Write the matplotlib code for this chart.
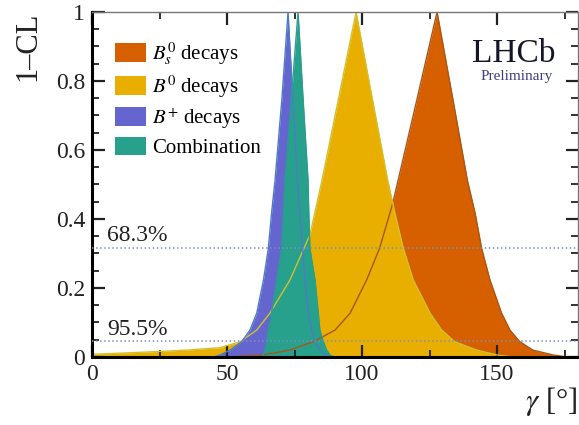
"""LHCb gamma combination: 1-CL profiles by B decay family (preliminary)."""
import matplotlib
matplotlib.use('Agg')
import matplotlib.pyplot as plt
from matplotlib.patches import Patch

# 1-CL profiles, (gamma [deg], 1-CL) pairs
BS_GAMMA = [50, 63.3, 73.3, 82, 90, 95.6, 101.7, 106.5, 111.2, 113.4, 120.3,
            127.8, 133.7, 139, 141.9, 144.3, 147.4, 151.7, 154.8, 158.5,
            163.3, 170.7, 176, 180]
BS_CL = [0, 0.006, 0.02, 0.044, 0.078, 0.127, 0.223, 0.315, 0.44, 0.513,
         0.745, 1, 0.745, 0.513, 0.4165, 0.315, 0.223, 0.127, 0.078, 0.044,
         0.02, 0.006, 0, 0]

B0_GAMMA = [0, 10, 22, 35, 47.4, 54.8, 61, 65.9, 73.3, 78.5, 80.7, 85.2,
            91.2, 97.8, 103.9, 109.5, 112.2, 115.3, 119, 125.2, 129.5, 134.4,
            142.5, 149.9, 156]
B0_CL = [0.008, 0.011, 0.015, 0.02, 0.027, 0.044, 0.078, 0.127, 0.223, 0.315,
         0.354, 0.513, 0.745, 1, 0.745, 0.513, 0.4165, 0.315, 0.223, 0.127,
         0.078, 0.044, 0.02, 0.006, 0]

BP_GAMMA = [45, 47.4, 51.1, 55.4, 58.5, 61, 63.5, 65.3, 66.5, 67.8, 70.3,
            72.6, 74.4, 76, 77, 78, 78.9, 80.1, 81.4, 82.6, 84.4, 86.3, 88]
BP_CL = [0, 0.006, 0.02, 0.044, 0.078, 0.127, 0.223, 0.315, 0.4165, 0.513,
         0.745, 1, 0.745, 0.513, 0.4165, 0.315, 0.223, 0.127, 0.078, 0.044,
         0.02, 0.006, 0]

CMB_GAMMA = [63, 63.4, 64.1, 64.7, 65.3, 66.5, 68.4, 70.2, 70.9, 71.5, 73.8,
             76.3, 78.2, 80, 80.3, 80.7, 82.6, 83.8, 84.4, 85.7, 86.9, 88.1,
             89.5]
CMB_CL = [0, 0.006, 0.02, 0.044, 0.078, 0.127, 0.223, 0.315, 0.4165, 0.513,
          0.745, 1, 0.745, 0.513, 0.4165, 0.315, 0.223, 0.127, 0.078, 0.044,
          0.02, 0.006, 0]

LABELS = [r'$B_s^0$ decays', r'$B^0$ decays', r'$B^{+}$ decays', 'Combination']
CL_LEVELS = [0.317, 0.045]
CL_TEXT = ['68.3%', '95.5%']

FILL_COLORS = ['#D66000', '#E8AF00', '#6465CF', '#27A08C']
LINE_COLORS = ['#A8561A', '#D2C030', '#4C7CC8', '#2A9E8E']

plt.rcParams['font.family'] = ['Liberation Serif', 'DejaVu Serif']
plt.rcParams['mathtext.fontset'] = 'stix'

fig = plt.figure(figsize=(5.79, 4.25), dpi=100)
ax = fig.add_axes([0.1589, 0.16, 0.8394, 0.8118])

curves = [(BS_GAMMA, BS_CL), (B0_GAMMA, B0_CL), (BP_GAMMA, BP_CL),
          (CMB_GAMMA, CMB_CL)]
for (g, cl), col in zip(curves, FILL_COLORS):
    ax.fill_between(g, cl, 0, color=col, linewidth=0, zorder=1)
for (g, cl), col in zip(curves, LINE_COLORS):
    ax.plot(g, cl, '-', color=col, linewidth=1.0, zorder=2)

for lvl, txt in zip(CL_LEVELS, CL_TEXT):
    ax.axhline(lvl, color='#8090B8', linestyle=':', linewidth=1.1, zorder=3)
    ax.text(5.6, lvl + 0.019, txt, fontsize=17, va='baseline', ha='left',
            color='#222222')

ax.set_xlim(0, 180)
ax.set_ylim(0, 1)
ax.set_xticks([0, 50, 100, 150])
ax.set_xticks([25, 75, 125, 175], minor=True)
ax.set_yticks([0, 0.2, 0.4, 0.6, 0.8, 1])
ax.set_yticklabels(['0', '0.2', '0.4', '0.6', '0.8', '1'])
ax.set_yticks([i * 0.05 for i in range(21)], minor=True)
ax.tick_params(which='both', direction='in', top=True, right=True,
               labelsize=17, colors='#222222')
ax.tick_params(which='major', length=9, width=1.6, pad=5)
ax.tick_params(which='minor', length=5, width=1.3)

for side in ['left', 'bottom']:
    ax.spines[side].set_linewidth(2.2)
    ax.spines[side].set_color('black')
for side in ['top', 'right']:
    ax.spines[side].set_linewidth(1.0)
    ax.spines[side].set_color('#777777')

ax.text(-0.132, 0.9, '1–CL', transform=ax.transAxes, rotation=90,
        ha='center', va='center', fontsize=22, color='#222222')
ax.text(0.998, -0.13, r'$\gamma$ [°]', transform=ax.transAxes,
        ha='right', va='center', fontsize=22, color='#222222')

ax.text(0.953, 0.855, 'LHCb', transform=ax.transAxes, ha='right',
        va='baseline', fontsize=24, color='#15152a')
ax.text(0.949, 0.803, 'Preliminary', transform=ax.transAxes, ha='right',
        va='baseline', fontsize=11, color='#3E3F7E')

handles = [Patch(facecolor=c, edgecolor='none', label=l)
           for c, l in zip(FILL_COLORS, LABELS)]
ax.legend(handles=handles, loc='upper left', bbox_to_anchor=(0.047, 0.918),
          frameon=False, fontsize=15, handlelength=1.5, handleheight=1.0,
          handletextpad=0.3, labelspacing=0.3, borderpad=0,
          borderaxespad=0)

fig.savefig('out.png', dpi=100)
